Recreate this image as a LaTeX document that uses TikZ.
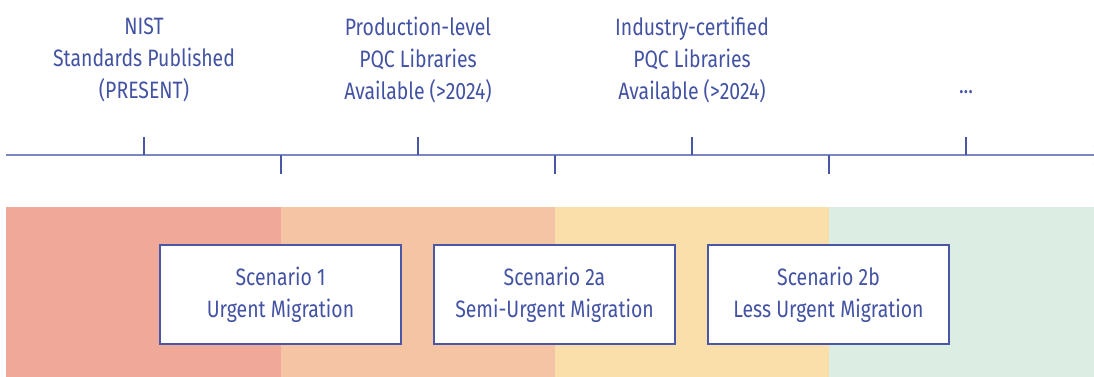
\documentclass[tikz,border=0pt]{standalone}
\usepackage{fontspec}
\setmainfont{Fira Sans}[FakeStretch=0.82]
\usetikzlibrary{arrows.meta, positioning}
\definecolor{textblue}{HTML}{4353A3}
\definecolor{axisblue}{HTML}{7A86C0}
\definecolor{tickblue}{HTML}{4A57A6}
\definecolor{bandred}{HTML}{F0A899}
\definecolor{bandorange}{HTML}{F5C4A4}
\definecolor{bandyellow}{HTML}{FADFAB}
\definecolor{bandgreen}{HTML}{DCEDE4}
\tikzset{
  toplabel/.style={align=center, text=textblue, font=\fontsize{23.7}{32}\selectfont},
  scenbox/.style={draw=tickblue, line width=1.3pt, fill=white, text=textblue,
    align=center, minimum width=241pt, minimum height=99pt,
    font=\fontsize{23.7}{32}\selectfont},
  axisline/.style={axisblue, line width=1.2pt},
  tickmark/.style={tickblue, line width=1.2pt}
}

\begin{document}
\begin{tikzpicture}[x=1pt,y=-1pt]
\useasboundingbox (0,0) rectangle (1094,377);
% colour bands
\fill[bandred] (6,207) rectangle (281,377);
\fill[bandorange] (281,207) rectangle (555,377);
\fill[bandyellow] (555,207) rectangle (829,377);
\fill[bandgreen] (829,207) rectangle (1094,377);
% time axis
\coordinate (axisL) at (6,155);
\coordinate (axisR) at (1100,155);
\draw[axisline, -{Straight Barb[length=5pt, width=18pt]}] (axisL) -- (axisR);
\foreach \x in {144,418,692,966}
  \draw[tickmark] (\x,137) -- (\x,155);
\foreach \x in {281,555,829}
  \draw[tickmark] (\x,155) -- (\x,174);
% milestones
\node[toplabel] (nist) at (144,60) {NIST\\Standards Published\\(PRESENT)};
\node[toplabel] (prodlib) at (418,60) {Production-level\\PQC Libraries\\Available (>2024)};
\node[toplabel] (certlib) at (692,60) {Industry-certified\\PQC Libraries\\Available (>2024)};
\node[toplabel] (more) at (966,92) {...};
% scenarios
\node[scenbox] (scen1) at (280.5,294.5) {Scenario 1\\Urgent Migration};
\node[scenbox] (scen2a) at (554.5,294.5) {Scenario 2a\\Semi-Urgent Migration};
\node[scenbox] (scen2b) at (828.5,294.5) {Scenario 2b\\Less Urgent Migration};
\end{tikzpicture}
\end{document}
